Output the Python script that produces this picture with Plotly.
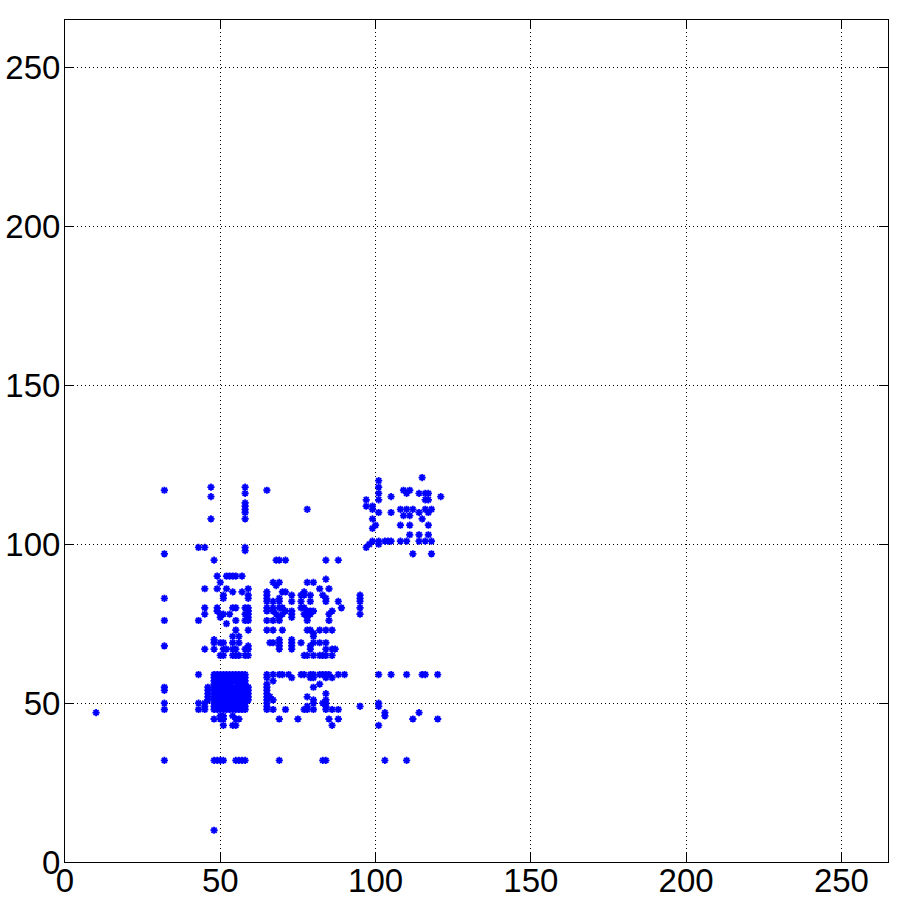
import plotly.graph_objects as go

# points, grouped by cluster (x, y)
isolated = [(10, 47), (48, 10), (32, 117), (32, 97), (32, 83), (32, 76), (32, 68),
            (32, 55), (32, 54), (32, 50), (32, 48), (32, 32), (78, 111)]

top_left = [(47, 118), (47, 115), (47, 108), (58, 118), (58, 116), (58, 113), (58, 112),
            (58, 111), (58, 110), (58, 108), (65, 117), (43, 99), (45, 99), (58, 99),
            (58, 98), (48, 95)]

left_mid = [(49, 90), (52, 90), (53, 90), (54, 90), (55, 90), (57, 90), (50, 88), (45, 86),
            (49, 86), (52, 86), (59, 86), (54, 85), (57, 85), (51, 84), (51, 83), (59, 84),
            (59, 83), (45, 80), (49, 80), (54, 80), (55, 80), (58, 80), (59, 80), (49, 79),
            (50, 78), (51, 78), (53, 78), (59, 79), (59, 78), (59, 77), (59, 76), (58, 78),
            (58, 76), (45, 78), (43, 76), (50, 77), (52, 75), (55, 76), (55, 73), (59, 73),
            (54, 71), (56, 71), (48, 70), (48, 69), (50, 69), (51, 69), (54, 69), (56, 69),
            (45, 67), (48, 67), (51, 67), (52, 67), (54, 67), (55, 67), (58, 67), (59, 67),
            (59, 68), (50, 65), (51, 65), (54, 65), (55, 65), (56, 65), (58, 65), (59, 65)]

middle = [(68, 95), (69, 95), (71, 95), (84, 95), (88, 95), (84, 89), (67, 88), (69, 88),
          (68, 87), (78, 88), (80, 88), (82, 86), (85, 86), (65, 85), (65, 84), (65, 83),
          (65, 82), (70, 85), (71, 85), (77, 85), (73, 84), (76, 84), (77, 84), (79, 84),
          (83, 84), (84, 83), (67, 82), (69, 83), (69, 82), (73, 82), (76, 82), (79, 82),
          (84, 82), (88, 82), (89, 80), (65, 80), (65, 79), (67, 80), (67, 79), (69, 80),
          (70, 80), (71, 79), (73, 79), (73, 78), (76, 80), (77, 80), (78, 79), (79, 79),
          (80, 79), (86, 79), (85, 78), (68, 78), (70, 78), (69, 77), (77, 78), (78, 77),
          (79, 78), (73, 77), (65, 76), (67, 76), (69, 76), (78, 76), (85, 76), (65, 73),
          (67, 73), (70, 73), (78, 73), (79, 73), (82, 73), (84, 73), (86, 73), (80, 72),
          (80, 71), (66, 69), (67, 69), (69, 70), (69, 69), (69, 68), (69, 67), (73, 70),
          (73, 69), (73, 68), (73, 67), (76, 69), (80, 69), (82, 69), (84, 69), (79, 68),
          (79, 67), (84, 67), (86, 67), (87, 67), (77, 65), (78, 65), (80, 65), (82, 65),
          (83, 65), (84, 65), (86, 65), (95, 84), (95, 83), (95, 82), (95, 80), (95, 78)]

# dense block, one row of x values per y
block_y = [59, 58, 57, 56, 55, 54, 53, 52, 51, 50, 49, 48]
block_x_rows = [
    [48, 49, 50, 51, 52, 53, 54, 55, 56, 57, 58],
    [48, 49, 50, 51, 52, 53, 54, 55, 56, 57, 58],
    [48, 49, 50, 51, 52, 53, 54, 55, 56, 57, 58],
    [48, 49, 50, 51, 52, 53, 56, 57, 58],
    [48, 49, 50, 51, 52, 53, 54, 55, 56, 57, 58, 59],
    [48, 49, 50, 51, 52, 53, 54, 55, 56, 57, 58, 59],
    [48, 49, 50, 51, 52, 53, 54, 55, 56, 57, 58, 59],
    [48, 49, 50, 51, 52, 53, 54, 55, 56, 57, 58, 59],
    [48, 49, 50, 51, 52, 53, 54, 55, 56, 57, 58, 59],
    [48, 49, 50, 51, 52, 53, 54, 55, 56, 57, 58],
    [48, 49, 50, 51, 52, 53, 54, 55, 56, 57, 58],
    [48, 49, 50, 51, 52, 53, 54, 55, 56, 57, 58],
]

around_block = [(43, 59), (43, 50), (43, 48), (46, 55), (46, 54), (46, 53), (46, 52),
                (46, 51), (45, 50), (45, 49), (45, 48), (48, 45), (50, 46), (50, 45),
                (51, 46), (51, 45), (54, 46), (55, 45), (56, 45), (51, 43), (54, 43),
                (55, 43), (48, 32), (49, 32), (50, 32), (51, 32), (55, 32), (56, 32),
                (57, 32), (58, 32)]

right_of_block = [(65, 59), (67, 59), (69, 59), (70, 59), (72, 59), (76, 59), (77, 59),
                  (79, 59), (80, 59), (82, 59), (83, 59), (84, 59), (85, 59), (88, 59),
                  (90, 59), (65, 58), (73, 58), (79, 58), (80, 58), (84, 58), (86, 58),
                  (67, 57), (82, 56), (80, 55), (65, 56), (65, 55), (65, 54), (65, 53),
                  (65, 52), (66, 52), (67, 51), (78, 52), (84, 53), (80, 51), (80, 50),
                  (65, 51), (65, 50), (65, 49), (65, 48), (83, 50), (84, 51), (84, 50),
                  (84, 49), (78, 49), (67, 48), (71, 48), (77, 48), (78, 48), (80, 48),
                  (84, 48), (86, 48), (88, 48), (69, 45), (75, 45), (85, 45), (88, 45),
                  (86, 43), (69, 32), (83, 32), (84, 32)]

far_right = [(101, 59), (105, 59), (110, 59), (115, 59), (116, 59), (120, 59), (95, 49),
             (101, 50), (101, 49), (103, 47), (103, 46), (114, 47), (112, 45), (120, 45),
             (101, 43), (103, 32), (110, 32)]

top_right = [(115, 121), (101, 120), (101, 118), (101, 116), (101, 114), (97, 114),
             (105, 115), (109, 117), (111, 117), (110, 116), (114, 116), (116, 116),
             (117, 116), (116, 114), (117, 114), (121, 115), (97, 112), (99, 112),
             (99, 111), (101, 110), (105, 110), (108, 111), (110, 111), (112, 111),
             (109, 109), (111, 109), (114, 110), (116, 111), (118, 111), (117, 110),
             (115, 108), (99, 108), (99, 105), (100, 106), (108, 106), (111, 106),
             (117, 106), (111, 103), (114, 103), (117, 103), (99, 101), (101, 101),
             (103, 101), (104, 101), (105, 101), (108, 101), (110, 101), (114, 101),
             (116, 101), (118, 101), (98, 100), (97, 99), (101, 100), (112, 97), (118, 97)]

tick_vals = [0, 50, 100, 150, 200, 250]

points = isolated + top_left + left_mid + middle + around_block + right_of_block + far_right + top_right
for yv, row in zip(block_y, block_x_rows):
    points += [(xv, yv) for xv in row]

xs = [p[0] for p in points]
ys = [p[1] for p in points]

fig = go.Figure(go.Scatter(x=xs, y=ys, mode='markers',
                           marker=dict(symbol='asterisk-open', size=6, color='blue',
                                       line=dict(color='blue', width=1.8))))

axis_style = dict(range=[0, 265], tickvals=tick_vals, ticks='inside', ticklen=9,
                  tickcolor='black', showline=True, linecolor='black', linewidth=1,
                  mirror='ticks', showgrid=True, gridcolor='black', griddash='1px,3px',
                  gridwidth=1, zeroline=False, automargin=False,
                  tickfont=dict(family='Liberation Sans, Arial', size=33, color='black'))

fig.update_layout(width=900, height=900,
                  plot_bgcolor='white', paper_bgcolor='white',
                  showlegend=False,
                  margin=dict(l=65, r=12, t=20, b=38),
                  xaxis=axis_style, yaxis=axis_style)
fig.update_xaxes(ticklabelstandoff=-11)
fig.update_yaxes(ticklabelstandoff=-3)

# drop the default body margin so the figure sits flush with the window
fig.write_html("out.html", config={'displayModeBar': False},
               post_script="document.body.style.margin='0px';")
